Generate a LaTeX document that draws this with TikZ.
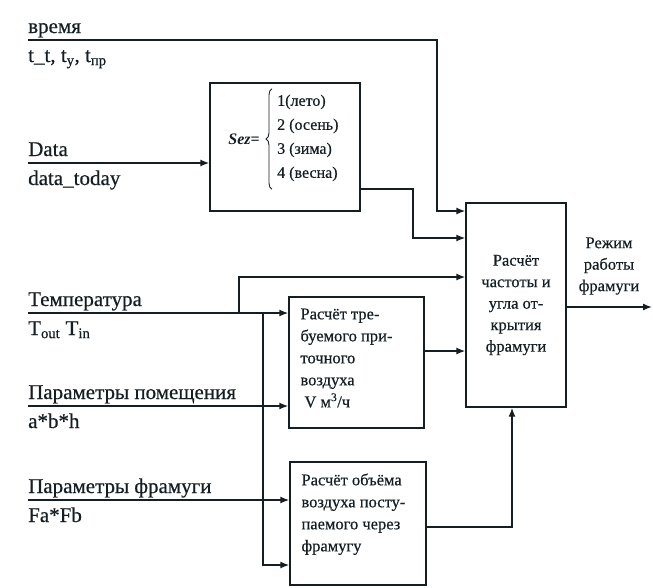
\documentclass[tikz,border=0pt]{standalone}
\usepackage{fontspec}
\setmainfont{Liberation Serif}[UprightFeatures={FakeBold=0.5}]
\usetikzlibrary{arrows.meta, positioning, calc, decorations.pathreplacing}

\definecolor{ink}{RGB}{20,30,35}

\tikzset{
  blok/.style     = {draw=ink, line width=1.4pt, inner sep=0pt},
  link/.style     = {draw=ink, line width=1.4pt, -{Latex[length=9pt, width=7pt]}},
  toplbl/.style   = {anchor=base west, inner sep=0pt, yshift=7pt,
                     font=\fontsize{21}{24}\selectfont, text=ink},
  botlbl/.style   = {anchor=base west, inner sep=0pt, yshift=-22pt,
                     font=\fontsize{21}{24}\selectfont, text=ink},
  blocktext/.style = {anchor=north west, inner sep=0pt, align=left,
                     font=\fontsize{16.5}{22}\selectfont, text=ink},
}

\begin{document}
\begin{tikzpicture}[x=1pt, y=-1pt]
  \useasboundingbox (0,0) rectangle (653,587);

  % Start points of the input lines

  \coordinate (tin)   at (28, 40);
  \coordinate (din)   at (28,163);
  \coordinate (temp)  at (28,313);
  \coordinate (room)  at (28,406);
  \coordinate (fram)  at (28,500);

  % Bend points of the connectors

  \coordinate (tbend) at (437, 40);
  \coordinate (sbend) at (413,189);
  \coordinate (tup)   at (239,313);
  \coordinate (tdown) at (263,313);
  \coordinate (vbend) at (512,527);
  \coordinate (out)   at (652,307);

  % Labels of the inputs

  \node[toplbl] (timelbl) at (tin)  {время};
  \node[botlbl] (timesub) at (tin)  {t\_t, t\textsubscript{y}, t\textsubscript{пр}};
  \node[toplbl] (datalbl) at (din)  {Data};
  \node[botlbl] (datasub) at (din)  {data\_today};
  \node[toplbl] (templbl) at (temp) {Температура};
  \node[botlbl] (tempsub) at (temp) {T\textsubscript{out} T\textsubscript{in}};
  \node[toplbl] (roomlbl) at (room) {Параметры помещения};
  \node[botlbl] (roomsub) at (room) {a*b*h};
  \node[toplbl] (framlbl) at (fram) {Параметры фрамуги};
  \node[botlbl] (framsub) at (fram) {Fa*Fb};

  % Blocks

  \node[blok, minimum width=150, minimum height=128] (sez) at (285,147) {};
  \node[anchor=west, text=ink, inner sep=0pt, font=\fontsize{16}{24}\selectfont]
    (sezitems) at (277,137)
    {\begin{tabular}{@{}l@{}}1(лето)\\2 (осень)\\3 (зима)\\4 (весна)\end{tabular}};
  \node[anchor=east, text=ink, inner sep=0pt, font=\fontsize{16}{24}\selectfont]
    (sezlbl) at (260,139) {\textbf{\textit{Sez}=}};
  \draw[ink, line width=0.9pt, decorate, decoration={brace, amplitude=6pt}]
    (sezitems.south west) ++(-5,4) coordinate (bb)
    (bb) -- (bb |- sezitems.north) ++(0,-4);

  \node[blok, minimum width=100, minimum height=204, align=center,
        text=ink, font=\fontsize{16.5}{21.5}\selectfont] (calc) at (516,305)
    {Расчёт\\частоты и\\угла от-\\крытия\\фрамуги};

  \node[blok, minimum width=135, minimum height=131] (air) at (356.5,362.5) {};
  \node[blocktext] (airtxt) at ([shift={(12,12)}]air.north west)
    {Расчёт тре-\\буемого при-\\точного\\воздуха\\\hspace{4pt}V м\textsuperscript{3}/ч};

  \node[blok, minimum width=136, minimum height=123] (vol) at (358,523.5) {};
  \node[blocktext] (voltxt) at ([shift={(12,12)}]vol.north west)
    {Расчёт объёма\\воздуха посту-\\паемого через\\фрамугу};

  \node[align=center, text=ink, font=\fontsize{16.5}{21.5}\selectfont] (mode)
    at (609,266) {Режим\\работы\\фрамуги};

  % Connectors

  \draw[link] (tin) -- (tbend) |- (calc.west |- 0,211);
  \draw[link] (din) -- (din -| sez.west);
  \draw[link] (sez.east |- sbend) -- (sbend) |- (calc.west |- 0,238);
  \draw[link] (temp) -- (temp -| air.west);
  \draw[link] (tup) |- (calc.west |- 0,277);
  \draw[link] (tdown) |- (vol.west |- 0,565);
  \draw[link] (room) -- (room -| air.west);
  \draw[link] (fram) -- (fram -| vol.west);
  \draw[link] (air.east |- 0,351) -- (calc.west |- 0,351);
  \draw[link] (vol.east |- vbend) -- (vbend) -- (vbend |- calc.south);
  \draw[link] (calc.east |- out) -- (out);

\end{tikzpicture}
\end{document}
